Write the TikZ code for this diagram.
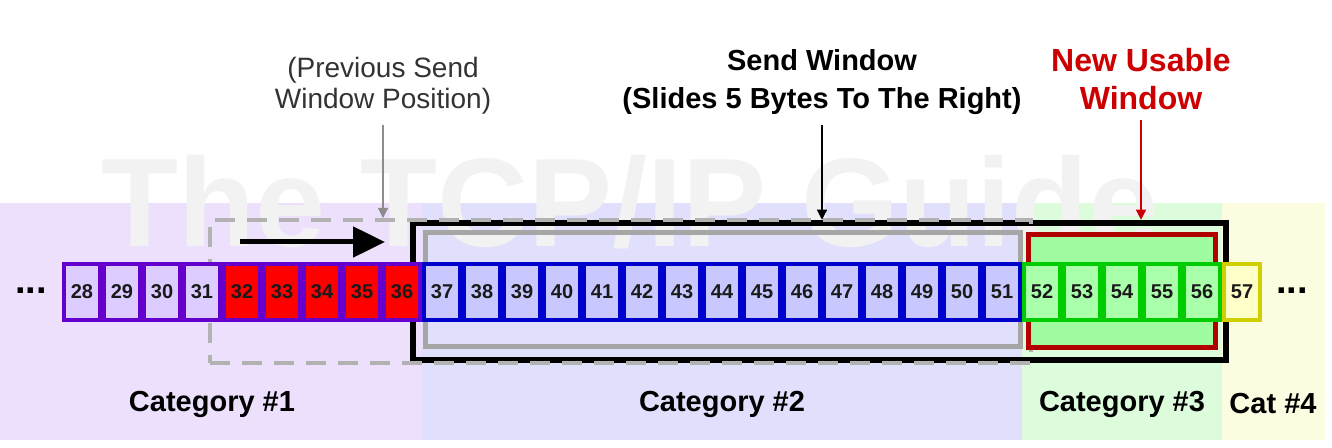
\documentclass[tikz,border=0pt]{standalone}
\usepackage{fontspec}
\setmainfont{Liberation Sans}
\usetikzlibrary{arrows.meta, fit}
\definecolor{bandone}{HTML}{EDE0FC}
\definecolor{bandtwo}{HTML}{E0E0FC}
\definecolor{bandthree}{HTML}{DCFCDC}
\definecolor{bandfour}{HTML}{FCFCE0}
\definecolor{bytepurple}{HTML}{6600CC}
\definecolor{bytelav}{HTML}{DDCCFF}
\definecolor{bytered}{HTML}{FF0000}
\definecolor{byteblue}{HTML}{0000CC}
\definecolor{bytebluefill}{HTML}{C8C8FF}
\definecolor{bytegreen}{HTML}{00CC00}
\definecolor{bytegreenfill}{HTML}{AAFFAA}
\definecolor{byteyellow}{HTML}{D0D000}
\definecolor{byteyellowfill}{HTML}{FFFFC8}
\definecolor{usablered}{HTML}{B00000}
\definecolor{usabletext}{HTML}{CC0000}
\definecolor{usablefill}{HTML}{A0FCA0}
\definecolor{numtext}{HTML}{1A1A1A}
\tikzset{
  cell/.style 2 args={rectangle, draw=#1, fill=#2, line width=2pt,
                      minimum width=18pt, minimum height=28pt, inner sep=0pt,
                      font=\fontsize{10}{12}\selectfont\bfseries, text=numtext},
  catlbl/.style={font=\fontsize{14.5}{17}\selectfont\bfseries},
  winlbl/.style={align=center, inner sep=1pt},
  winbox/.style={rectangle, inner sep=0pt, line width=#1},
  thinarr/.style={-{Triangle[length=5pt,width=5pt]}, line width=0.6pt, #1},
  thinarr/.default=black,
  slidearr/.style={-{Triangle[length=16pt,width=15pt]}, line width=2.5pt},
}
\begin{document}
\begin{tikzpicture}[x=0.5pt, y=-0.5pt]
  \useasboundingbox (0,0) rectangle (1332,448);

  % category bands
  \fill[bandone] (0,203) rectangle (422,440);
  \fill[bandtwo] (422,203) rectangle (1022,440);
  \fill[bandthree] (1022,203) rectangle (1222,440);
  \fill[bandfour] (1222,203) rectangle (1325,440);

  \node[anchor=base, font=\fontsize{63}{63}\selectfont\bfseries, text=black!5]
    (mark) at (630,247) {The TCP/IP Guide};

  % window boxes
  \node[fit={(413,223) (1226,360)}, winbox=3.25pt, draw=black] (sendwin) {};
  \node[fit={(210,220) (1031,363)}, winbox=2pt, draw=black!30,
        dash pattern=on 10pt off 6pt] (prevwin) {};
  \node[fit={(425,233) (1020,347)}, winbox=2.5pt, draw=black!35] (sentwin) {};
  \node[fit={(1028,235) (1215,348)}, winbox=2.5pt, draw=usablered,
        fill=usablefill] (usewin) {};

  % bytes
  \foreach \n in {28,...,31}
    \node[cell={bytepurple}{bytelav}] (c\n) at ({82+40*(\n-28)},292) {\n};
  \foreach \n in {32,...,36}
    \node[cell={bytepurple}{bytered}] (c\n) at ({82+40*(\n-28)},292) {\n};
  \foreach \n in {37,...,51}
    \node[cell={byteblue}{bytebluefill}] (c\n) at ({82+40*(\n-28)},292) {\n};
  \foreach \n in {52,...,56}
    \node[cell={bytegreen}{bytegreenfill}] (c\n) at ({82+40*(\n-28)},292) {\n};
  \node[cell={byteyellow}{byteyellowfill}] (c57) at (1242,292) {57};

  \node[font=\fontsize{19}{19}\selectfont\bfseries] (dotsl) at (31,291) {...};
  \node[font=\fontsize{19}{19}\selectfont\bfseries] (dotsr) at (1292,291) {...};

  % labels
  \node[winlbl, font=\fontsize{14}{15.5}\selectfont, text=black!80]
    (prevlbl) at (383,86) {(Previous Send\\Window Position)};
  \node[winlbl, font=\fontsize{14.5}{19}\selectfont\bfseries]
    (sendlbl) at (822,82) {Send Window\\(Slides 5 Bytes To The Right)};
  \node[winlbl, font=\fontsize{16}{19}\selectfont\bfseries, text=usabletext]
    (uselbl) at (1141,79) {New Usable\\Window};

  \node[catlbl] (cat1) at (212,404) {Category \#1};
  \node[catlbl] (cat2) at (722,404) {Category \#2};
  \node[catlbl] (cat3) at (1122,404) {Category \#3};
  \node[catlbl] (cat4) at (1273,404) {Cat \#4};

  % connectors
  \draw[thinarr=black!45, shorten <=4pt] (prevlbl.south) -- (prevlbl.south |- prevwin.north);
  \draw[thinarr, shorten <=4pt] (sendlbl.south) -- (sendlbl.south |- sendwin.north);
  \draw[thinarr=usabletext, shorten <=4pt] (uselbl.south) -- (uselbl.south |- sendwin.north);

  \coordinate (slidefrom) at (240,242);
  \coordinate (slideto) at (385,242);
  \draw[slidearr] (slidefrom) -- (slideto);
\end{tikzpicture}
\end{document}
